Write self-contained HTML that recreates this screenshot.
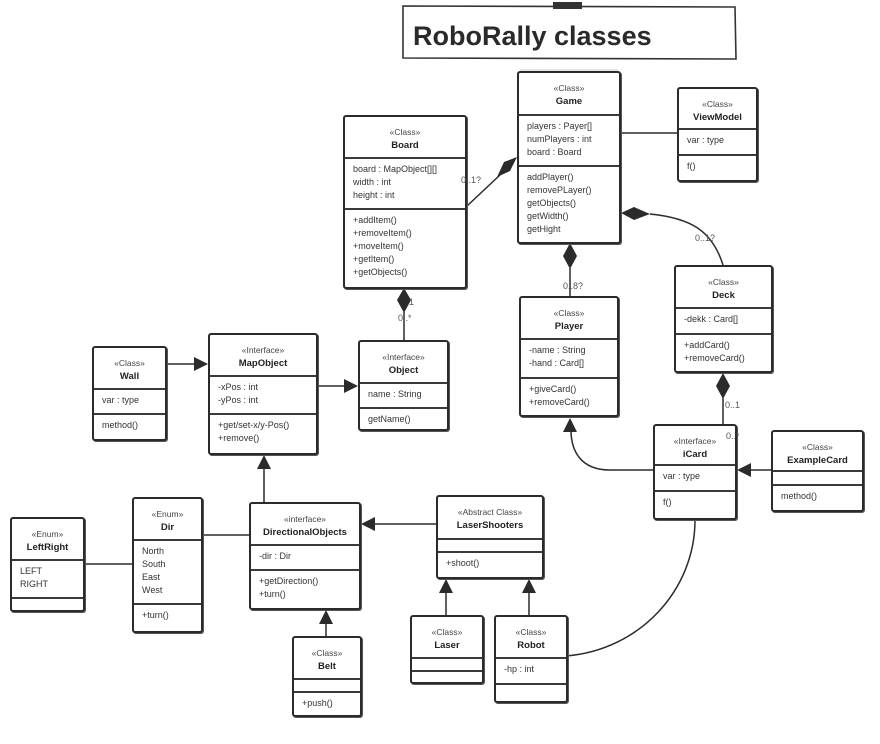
<!DOCTYPE html>
<html><head><meta charset="utf-8">
<style>
html,body{margin:0;padding:0;background:#fff;}
body{width:880px;height:744px;position:relative;overflow:hidden;font-family:"Liberation Sans",Arial,sans-serif;color:#333;}
.b{position:absolute;box-sizing:border-box;border:2px solid #2b2b2b;border-radius:3px;background:#fff;display:flex;flex-direction:column;box-shadow:1px 1px 0 #555;}
.h{box-sizing:border-box;border-bottom:2px solid #3a3a3a;text-align:center;font-size:9px;line-height:13px;padding-top:9px;flex:none;}
.h b{font-size:9.5px;color:#222;}
.s{box-sizing:border-box;border-bottom:2px solid #3a3a3a;font-size:9px;line-height:13px;padding:4px 0 0 8px;flex:none;}
.s:last-child{border-bottom:none;flex:1;}
.st{font-size:8.5px;color:#444;}
svg{position:absolute;left:0;top:0;}
.lbl{position:absolute;font-size:9px;color:#555;z-index:5;}
</style></head><body>
<svg width="880" height="744">
<g stroke="#2b2b2b" stroke-width="1.5" fill="none">
<line x1="467" y1="206" x2="500" y2="175"/>
<line x1="621" y1="133" x2="677" y2="133"/>
<line x1="570" y1="268" x2="570" y2="296"/>
<path d="M650 214 C690 218 712 230 723 265"/>
<line x1="404" y1="312" x2="404" y2="340"/>
<line x1="167" y1="364" x2="196" y2="364"/>
<line x1="318" y1="386" x2="346" y2="386"/>
<line x1="264" y1="502" x2="264" y2="467"/>
<line x1="203" y1="535" x2="249" y2="535"/>
<line x1="85" y1="564" x2="132" y2="564"/>
<line x1="436" y1="524" x2="374" y2="524"/>
<line x1="446" y1="615" x2="446" y2="592"/>
<line x1="529" y1="615" x2="529" y2="592"/>
<line x1="326" y1="636" x2="326" y2="623"/>
<line x1="723" y1="398" x2="723" y2="424"/>
<path d="M653 470 L610 470 C580 470 571 450 571 430"/>
<line x1="771" y1="470" x2="750" y2="470"/>
<path d="M695 520 C695 590 640 650 566 656"/>
</g>
<g fill="#2b2b2b">
<polygon points="517,157 510,171 497,177 504,162"/>
<polygon points="570,243 577,256 570,269 563,256"/>
<polygon points="621,213 634,207 650,214 634,220"/>
<polygon points="404,288 411,300 404,313 397,300"/>
<polygon points="723,373 730,386 723,399 716,386"/>
<polygon points="208,364 194,357 194,371"/>
<polygon points="358,386 344,379 344,393"/>
<polygon points="264,455 257,469 271,469"/>
<polygon points="361,524 375,517 375,531"/>
<polygon points="446,579 439,593 453,593"/>
<polygon points="529,579 522,593 536,593"/>
<polygon points="326,610 319,624 333,624"/>
<polygon points="570,418 563,432 577,432"/>
<polygon points="737,470 751,463 751,477"/>
</g>
<polygon points="403,6 735,7 736,59 403,58" fill="#fff" stroke="#333" stroke-width="1.6"/>
<rect x="553" y="2" width="29" height="7" fill="#333"/>
<line x1="520" y1="70" x2="618" y2="70" stroke="#ccc" stroke-width="1"/>
<text x="413" y="45" font-family="Liberation Sans, Arial, sans-serif" font-weight="bold" font-size="27" fill="#2a2a2a">RoboRally classes</text>
</svg>

<div class="lbl" style="left:461px;top:175px">0..1?</div>
<div class="lbl" style="left:563px;top:281px">0..8?</div>
<div class="lbl" style="left:695px;top:233px">0..1?</div>
<div class="lbl" style="left:409px;top:297px">1</div>
<div class="lbl" style="left:398px;top:313px">0..*</div>
<div class="lbl" style="left:725px;top:400px">0..1</div>
<div class="lbl" style="left:726px;top:431px">0..*</div>

<div class="b" style="left:343px;top:115px;width:124px;height:174px">
<div class="h" style="height:42px"><span class="st">«Class»</span><br><b>Board</b></div>
<div class="s" style="height:51px">board : MapObject[][]<br>width : int<br>height : int</div>
<div class="s">+addItem()<br>+removeItem()<br>+moveItem()<br>+getItem()<br>+getObjects()</div></div>

<div class="b" style="left:517px;top:71px;width:104px;height:173px">
<div class="h" style="height:43px"><span class="st">«Class»</span><br><b>Game</b></div>
<div class="s" style="height:51px">players : Payer[]<br>numPlayers : int<br>board : Board</div>
<div class="s">addPlayer()<br>removePLayer()<br>getObjects()<br>getWidth()<br>getHight</div></div>

<div class="b" style="left:677px;top:87px;width:81px;height:95px">
<div class="h" style="height:41px"><span class="st">«Class»</span><br><b>ViewModel</b></div>
<div class="s" style="height:26px">var : type</div>
<div class="s">f()</div></div>

<div class="b" style="left:674px;top:265px;width:99px;height:108px">
<div class="h" style="height:42px"><span class="st">«Class»</span><br><b>Deck</b></div>
<div class="s" style="height:26px">-dekk : Card[]</div>
<div class="s">+addCard()<br>+removeCard()</div></div>

<div class="b" style="left:519px;top:296px;width:100px;height:121px">
<div class="h" style="height:42px"><span class="st">«Class»</span><br><b>Player</b></div>
<div class="s" style="height:39px">-name : String<br>-hand : Card[]</div>
<div class="s">+giveCard()<br>+removeCard()</div></div>

<div class="b" style="left:358px;top:340px;width:91px;height:91px">
<div class="h" style="height:42px"><span class="st">«Interface»</span><br><b>Object</b></div>
<div class="s" style="height:25px">name : String</div>
<div class="s">getName()</div></div>

<div class="b" style="left:208px;top:333px;width:110px;height:122px">
<div class="h" style="height:42px"><span class="st">«Interface»</span><br><b>MapObject</b></div>
<div class="s" style="height:38px">-xPos : int<br>-yPos : int</div>
<div class="s">+get/set-x/y-Pos()<br>+remove()</div></div>

<div class="b" style="left:92px;top:346px;width:75px;height:95px">
<div class="h" style="height:42px"><span class="st">«Class»</span><br><b>Wall</b></div>
<div class="s" style="height:25px">var : type</div>
<div class="s">method()</div></div>

<div class="b" style="left:653px;top:424px;width:84px;height:96px">
<div class="h" style="height:40px"><span class="st">«Interface»</span><br><b>iCard</b></div>
<div class="s" style="height:26px">var : type</div>
<div class="s">f()</div></div>

<div class="b" style="left:771px;top:430px;width:93px;height:82px">
<div class="h" style="height:40px"><span class="st">«Class»</span><br><b>ExampleCard</b></div>
<div class="s" style="height:14px"></div>
<div class="s">method()</div></div>

<div class="b" style="left:10px;top:517px;width:75px;height:95px">
<div class="h" style="height:42px"><span class="st">«Enum»</span><br><b>LeftRight</b></div>
<div class="s" style="height:38px">LEFT<br>RIGHT</div>
<div class="s"></div></div>

<div class="b" style="left:132px;top:497px;width:71px;height:136px">
<div class="h" style="height:42px"><span class="st">«Enum»</span><br><b>Dir</b></div>
<div class="s" style="height:64px">North<br>South<br>East<br>West</div>
<div class="s">+turn()</div></div>

<div class="b" style="left:249px;top:502px;width:112px;height:108px">
<div class="h" style="height:42px"><span class="st">«interface»</span><br><b>DirectionalObjects</b></div>
<div class="s" style="height:25px">-dir : Dir</div>
<div class="s">+getDirection()<br>+turn()</div></div>

<div class="b" style="left:436px;top:495px;width:108px;height:84px">
<div class="h" style="height:43px"><span class="st">«Abstract Class»</span><br><b>LaserShooters</b></div>
<div class="s" style="height:13px"></div>
<div class="s">+shoot()</div></div>

<div class="b" style="left:410px;top:615px;width:74px;height:69px">
<div class="h" style="height:42px"><span class="st">«Class»</span><br><b>Laser</b></div>
<div class="s" style="height:13px"></div>
<div class="s"></div></div>

<div class="b" style="left:494px;top:615px;width:74px;height:88px">
<div class="h" style="height:42px"><span class="st">«Class»</span><br><b>Robot</b></div>
<div class="s" style="height:26px">-hp : int</div>
<div class="s"></div></div>

<div class="b" style="left:292px;top:636px;width:70px;height:81px">
<div class="h" style="height:42px"><span class="st">«Class»</span><br><b>Belt</b></div>
<div class="s" style="height:13px"></div>
<div class="s">+push()</div></div>
</body></html>
